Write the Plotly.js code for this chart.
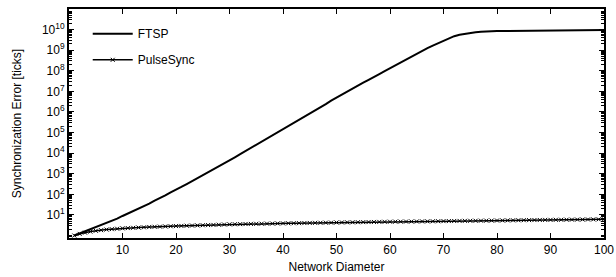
<!DOCTYPE html>
<html>
<head>
<meta charset="utf-8">
<script src="https://cdn.plot.ly/plotly-3.0.1.min.js"></script>
<style>html,body{margin:0;padding:0;background:#fff;}#chart{width:616px;height:277px;}</style>
</head>
<body>
<div id="chart"></div>
<script>
// Network diameter 1..100
const diameter = [];
for (let d = 1; d <= 100; d++) diameter.push(d);

const ftsp = [
  1, 1.26, 1.58, 2.0, 2.51, 3.16, 3.98, 5.01, 6.6, 8.9,
  11.7, 15.1, 20, 26.3, 35.5, 50, 66, 89, 126, 178,
  229, 316, 437, 603, 832, 1150, 1580, 2240, 3160, 4470,
  6310, 8910, 1.26e4, 1.82e4, 2.51e4, 3.63e4, 5.01e4, 7.24e4, 1.05e5, 1.51e5,
  2.09e5, 3.02e5, 4.17e5, 5.75e5, 8.32e5, 1.15e6, 1.66e6, 2.40e6, 3.55e6, 5.01e6,
  7.24e6, 1.0e7, 1.38e7, 2.0e7, 2.63e7, 3.63e7, 5.25e7, 6.92e7, 9.55e7, 1.32e8,
  1.91e8, 2.51e8, 3.63e8, 5.01e8, 6.61e8, 9.12e8, 1.26e9, 1.66e9, 2.19e9, 3.02e9,
  3.80e9, 4.79e9, 5.62e9, 6.31e9, 6.92e9, 7.41e9, 7.76e9, 8.13e9, 8.32e9, 8.51e9,
  8.55e9, 8.6e9, 8.63e9, 8.66e9, 8.7e9, 8.72e9, 8.75e9, 8.78e9, 8.8e9, 8.83e9,
  8.86e9, 8.9e9, 8.95e9, 9.0e9, 9.1e9, 9.2e9, 9.3e9, 9.4e9, 9.5e9, 9.6e9
];

const pulseSync = [
  1, 1.2, 1.38, 1.55, 1.7, 1.82, 1.95, 2.04, 2.14, 2.24,
  2.3, 2.37, 2.44, 2.5, 2.6, 2.65, 2.7, 2.76, 2.82, 2.88,
  2.93, 2.99, 3.05, 3.1, 3.16, 3.22, 3.28, 3.35, 3.42, 3.5,
  3.54, 3.58, 3.62, 3.66, 3.7, 3.74, 3.78, 3.82, 3.86, 3.9,
  3.93, 3.97, 4.0, 4.04, 4.08, 4.12, 4.16, 4.2, 4.24, 4.3,
  4.33, 4.37, 4.4, 4.44, 4.48, 4.52, 4.55, 4.59, 4.63, 4.68,
  4.71, 4.74, 4.77, 4.8, 4.83, 4.86, 4.89, 4.92, 4.96, 5.01,
  5.05, 5.08, 5.12, 5.16, 5.19, 5.22, 5.26, 5.29, 5.33, 5.37,
  5.41, 5.45, 5.49, 5.53, 5.57, 5.61, 5.65, 5.69, 5.73, 5.75,
  5.79, 5.83, 5.87, 5.91, 5.95, 5.99, 6.03, 6.07, 6.11, 6.17
];

const xTicks = [10, 20, 30, 40, 50, 60, 70, 80, 90, 100];
const yExponents = [1, 2, 3, 4, 5, 6, 7, 8, 9, 10];

const yTickVals = yExponents.map(e => Math.pow(10, e));
const yTickText = yExponents.map(e => '10<sup>' + e + '</sup>');
const yMinor = [];
for (let e = -1; e <= 10; e++) for (let m = 2; m <= 9; m++) yMinor.push(m * Math.pow(10, e));
yExponents.concat([0]).forEach(e => yMinor.push(Math.pow(10, e)));

const font = {family: '"Liberation Sans", Arial, sans-serif', size: 12, color: '#000'};

const traces = [
  {x: diameter, y: ftsp, name: 'FTSP', type: 'scatter', mode: 'lines',
   line: {color: '#000', width: 2}, legendgroup: 'a'},
  {x: diameter, y: pulseSync, name: 'PulseSync', type: 'scatter', mode: 'lines+markers',
   line: {color: '#000', width: 1.5}, marker: {symbol: 'x-thin', size: 4, color: '#000', line: {width: 1, color: '#000'}},
   legendgroup: 'b'}
];

const layout = {
  width: 616, height: 277,
  margin: {l: 69, r: 12, t: 9, b: 39},
  paper_bgcolor: '#fff', plot_bgcolor: '#fff',
  font: font,
  showlegend: true,
  legend: {x: 0.035, y: 0.955, xanchor: 'left', yanchor: 'top', bgcolor: 'rgba(0,0,0,0)',
           font: font, tracegroupgap: 7, traceorder: 'grouped', itemwidth: 40},
  xaxis: {
    range: [0, 100], tickmode: 'array', tickvals: xTicks, ticktext: xTicks.map(String),
    ticks: 'inside', ticklen: 5, tickwidth: 1, tickcolor: '#000',
    showline: true, linecolor: '#000', linewidth: 2, mirror: 'ticks',
    showgrid: false, zeroline: false,
    title: {text: 'Network Diameter', font: font, standoff: 6},
    tickfont: font
  },
  yaxis: {
    type: 'log', range: [-0.12, 11.0], tickmode: 'array', tickvals: yTickVals, ticktext: yTickText,
    ticks: 'inside', ticklen: 5, tickwidth: 1, tickcolor: '#000',
    minor: {tickmode: 'array', tickvals: yMinor, ticks: 'inside', ticklen: 3, tickwidth: 1, tickcolor: '#000', showgrid: false},
    showline: true, linecolor: '#000', linewidth: 2, mirror: 'ticks',
    showgrid: false, zeroline: false,
    title: {text: 'Synchronization Error [ticks]', font: font, standoff: 18},
    tickfont: font
  }
};

Plotly.newPlot('chart', traces, layout, {displayModeBar: false, staticPlot: true});
</script>
</body>
</html>
